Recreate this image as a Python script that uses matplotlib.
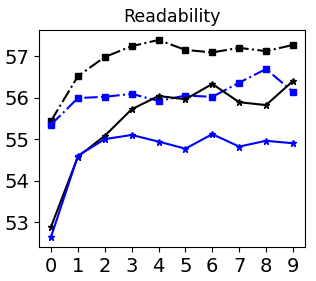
import matplotlib
matplotlib.use("Agg")
import matplotlib.pyplot as plt

x = list(range(10))
black_dashdot = [55.44, 56.52, 56.98, 57.24, 57.39, 57.15, 57.09, 57.20, 57.12, 57.27]
blue_dashdot = [55.35, 55.99, 56.02, 56.09, 55.92, 56.05, 56.02, 56.36, 56.69, 56.14]
black_solid = [52.89, 54.58, 55.08, 55.72, 56.04, 55.96, 56.33, 55.89, 55.82, 56.40]
blue_solid = [52.65, 54.60, 55.00, 55.10, 54.94, 54.77, 55.12, 54.82, 54.96, 54.90]

fig = plt.figure(figsize=(3.16, 2.81), dpi=100)
ax = fig.add_axes([39/316, 1 - 247/281, (305-39)/316, (247-30)/281])
ax.plot(x, black_dashdot, color='black', linestyle='-.', marker='s', markersize=5)
ax.plot(x, blue_dashdot, color='blue', linestyle='-.', marker='s', markersize=5)
ax.plot(x, black_solid, color='black', linestyle='-', marker='*', markersize=5)
ax.plot(x, blue_solid, color='blue', linestyle='-', marker='*', markersize=5)
ax.set_xticks(x)
ax.set_yticks([53, 54, 55, 56, 57])
ax.set_ylim(52.40, 57.63)
ax.tick_params(labelsize=14)
ax.set_title('Readability', fontsize=12.5)
fig.savefig('out.png', dpi=100)
